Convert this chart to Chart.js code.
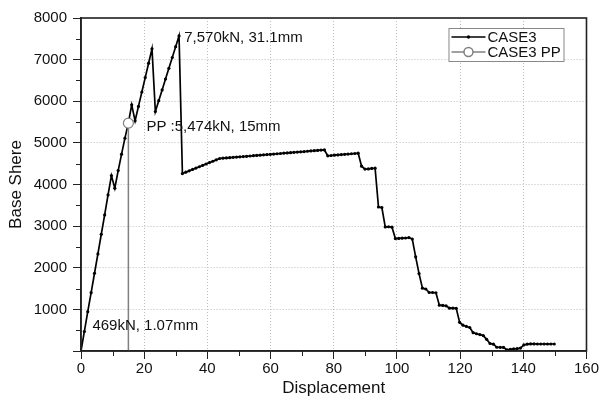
<!DOCTYPE html>
<html>
<head>
<meta charset="UTF-8">
<title>CASE3 pushover</title>
<script src="https://cdn.jsdelivr.net/npm/chart.js"></script>
<style>
    body { margin: 0; background: #fff; }
    canvas { display: block; }
</style>
</head>
<body>
<canvas id="chart" width="600" height="403"></canvas>
<script>
    // displacement (mm) and base shear (kN)
    const dispMm = [0, 1.07, 2.14, 3.21, 4.28, 5.35, 6.42, 7.49, 8.56, 9.63,
        10.70, 11.77, 12.84, 13.91, 14.98, 16.05, 17.12, 18.19, 19.26, 20.33,
        21.40, 22.47, 23.54, 24.61, 25.68, 26.75, 27.82, 28.89, 29.96, 31.03,
        32.10, 33.17, 34.24, 35.31, 36.38, 37.45, 38.52, 39.59, 40.66, 41.73,
        42.80, 43.87, 44.94, 46.01, 47.08, 48.15, 49.22, 50.29, 51.36, 52.43,
        53.50, 54.57, 55.64, 56.71, 57.78, 58.85, 59.92, 60.99, 62.06, 63.13,
        64.20, 65.27, 66.34, 67.41, 68.48, 69.55, 70.62, 71.69, 72.76, 73.83,
        74.90, 75.97, 77.04, 78.11, 79.18, 80.25, 81.32, 82.39, 83.46, 84.53,
        85.60, 86.67, 87.74, 88.81, 89.88, 90.95, 92.02, 93.09, 94.16, 95.23,
        96.30, 97.37, 98.44, 99.51, 100.58, 101.65, 102.72, 103.79, 104.86, 105.93,
        107.00, 108.07, 109.14, 110.21, 111.28, 112.35, 113.42, 114.49, 115.56, 116.63,
        117.70, 118.77, 119.84, 120.91, 121.98, 123.05, 124.12, 125.19, 126.26, 127.33,
        128.40, 129.47, 130.54, 131.61, 132.68, 133.75, 134.82, 135.89, 136.96, 138.03,
        139.10, 140.17, 141.24, 142.31, 143.38, 144.45, 145.52, 146.59, 147.66, 148.73,
        149.80];
    const baseShear = [0, 469, 945, 1402, 1868, 2332, 2805, 3270, 3750, 4214,
        3911, 4334, 4728, 5113, 5474, 5914, 5530,
        5876, 6222, 6568, 6914, 7260,
        5753, 6013, 6273, 6532, 6792, 7051, 7311, 7570,
        4262, 4295, 4328, 4361, 4394, 4427, 4460, 4493, 4526, 4559, 4592, 4625,
        4632, 4638, 4645, 4652, 4658, 4665, 4672, 4678, 4685, 4692, 4699, 4705,
        4712, 4719, 4725, 4732, 4739, 4745, 4752, 4759, 4765, 4772, 4779, 4786,
        4792, 4799, 4806, 4812, 4819, 4826, 4830,
        4690, 4697, 4704, 4711, 4718, 4725, 4732, 4739, 4745, 4752,
        4440, 4370, 4375, 4385, 4392,
        3460, 3445, 2980, 2985, 2975, 2700, 2705, 2710, 2715, 2725,
        2690, 2260, 1860, 1510, 1490, 1405, 1405, 1400, 1100, 1095, 1085, 1030, 1028, 1026,
        690, 620, 590, 565, 440, 415, 395, 370, 280, 180, 165, 90, 88, 85, 25, 40, 50, 55, 70,
        145, 165, 170, 170, 168, 168, 168, 168, 168, 168];

    // performance point
    const ppDisp = [15, 15];
    const ppShear = [0, 5474];

    const xMinorTicks = [10, 30, 50, 70, 90, 110, 130, 150];
    const yMinorTicks = [500, 1500, 2500, 3500, 4500, 5500, 6500, 7500];

    const notes = [
        { text: '7,570kN, 31.1mm', x: 31.1, y: 7570 },
        { text: 'PP :5,474kN, 15mm', x: 15, y: 5474 },
        { text: '469kN, 1.07mm', x: 1.07, y: 469 }
    ];
    const noteOffsets = [[5, 2], [18, 4], [8, -6]];

    const FONT = '"Liberation Sans", Arial, sans-serif';
    Chart.defaults.font.family = FONT;

    const decor = {
        id: 'decor',
        afterDraw(chart) {
            const { ctx, chartArea: a, scales: { x, y } } = chart;
            ctx.save();

            // minor ticks
            ctx.strokeStyle = '#222';
            ctx.lineWidth = 1;
            ctx.beginPath();
            xMinorTicks.forEach(v => {
                const px = Math.round(x.getPixelForValue(v)) + 0.5;
                ctx.moveTo(px, a.bottom);
                ctx.lineTo(px, a.bottom + 5);
            });
            yMinorTicks.forEach(v => {
                const py = Math.round(y.getPixelForValue(v)) + 0.5;
                ctx.moveTo(a.left, py);
                ctx.lineTo(a.left - 5, py);
            });
            ctx.stroke();

            // frame
            ctx.lineWidth = 1.6;
            ctx.strokeRect(a.left, a.top, a.right - a.left, a.bottom - a.top);

            // labels
            ctx.font = '15px ' + FONT;
            ctx.fillStyle = '#111';
            ctx.textBaseline = 'middle';
            ctx.textAlign = 'left';
            notes.forEach((n, i) => {
                ctx.fillText(n.text,
                    x.getPixelForValue(n.x) + noteOffsets[i][0],
                    y.getPixelForValue(n.y) + noteOffsets[i][1]);
            });

            // legend
            const bx = a.right - 138, by = a.top + 10, bw = 115, bh = 33;
            ctx.fillStyle = '#fff';
            ctx.fillRect(bx, by, bw, bh);
            ctx.strokeStyle = '#888';
            ctx.lineWidth = 1;
            ctx.strokeRect(bx + 0.5, by + 0.5, bw, bh);

            const ds = chart.data.datasets;
            const rows = [ds[1], ds[0]];
            rows.forEach((d, i) => {
                const ly = by + 9 + i * 15;
                ctx.strokeStyle = d.borderColor;
                ctx.lineWidth = 1.5;
                ctx.beginPath();
                ctx.moveTo(bx + 3, ly);
                ctx.lineTo(bx + 37, ly);
                ctx.stroke();
                ctx.beginPath();
                if (i === 0) {
                    ctx.fillStyle = '#000';
                    ctx.arc(bx + 20, ly, 1.7, 0, Math.PI * 2);
                    ctx.fill();
                } else {
                    ctx.fillStyle = '#fff';
                    ctx.arc(bx + 20, ly, 4.5, 0, Math.PI * 2);
                    ctx.fill();
                    ctx.stroke();
                }
                ctx.fillStyle = '#111';
                ctx.font = '15px ' + FONT;
                ctx.fillText(d.label, bx + 39, ly + 1);
            });

            ctx.restore();
        }
    };

    new Chart(document.getElementById('chart'), {
        type: 'line',
        data: {
            datasets: [{
                label: 'CASE3 PP',
                data: ppDisp.map((v, i) => ({ x: v, y: ppShear[i] })),
                borderColor: '#808080',
                borderWidth: 1.5,
                pointRadius: [0, 5],
                pointBackgroundColor: '#fff',
                pointBorderColor: '#808080',
                pointBorderWidth: 1.2
            }, {
                label: 'CASE3',
                data: dispMm.map((v, i) => ({ x: v, y: baseShear[i] })),
                borderColor: '#000',
                borderWidth: 1.7,
                pointRadius: 1.6,
                pointBackgroundColor: '#000',
                pointBorderWidth: 0,
                tension: 0
            }]
        },
        options: {
            responsive: false,
            animation: false,
            layout: { padding: { top: 18, right: 12, left: 0, bottom: 0 } },
            plugins: {
                legend: { display: false },
                tooltip: { enabled: false }
            },
            scales: {
                x: {
                    type: 'linear',
                    min: 0,
                    max: 160,
                    ticks: { stepSize: 20, color: '#111', font: { size: 15 }, padding: 1, maxRotation: 0 },
                    grid: { color: '#bdbdbd', lineWidth: 1, tickColor: '#222', tickLength: 8 },
                    border: { color: '#222', width: 1.6, dash: [1, 2] },
                    title: { display: true, text: 'Displacement', color: '#111', font: { size: 17 }, padding: { top: 4, bottom: 4 } },
                    afterFit(scale) { scale.height = 52; }
                },
                y: {
                    min: 0,
                    max: 8000,
                    ticks: {
                        stepSize: 1000, color: '#111', font: { size: 15 }, padding: 6,
                        callback: v => v === 0 ? '' : v
                    },
                    grid: { color: '#bdbdbd', lineWidth: 1, tickColor: '#222', tickLength: 8 },
                    border: { color: '#222', width: 1.6, dash: [1, 2] },
                    title: { display: true, text: 'Base Shere', color: '#111', font: { size: 17 }, padding: { top: 6, bottom: 4 } },
                    afterFit(scale) { scale.width = 81; }
                }
            }
        },
        plugins: [decor]
    });
</script>
</body>
</html>
